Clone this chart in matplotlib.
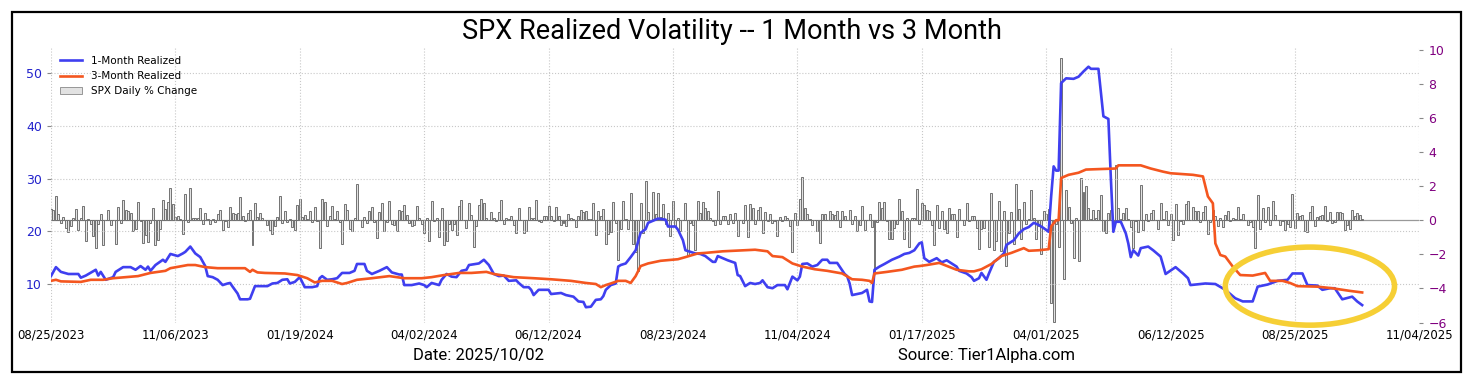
import numpy as np
import pandas as pd
import matplotlib
matplotlib.use("Agg")
import matplotlib.pyplot as plt
from matplotlib.patches import Ellipse, Rectangle, Patch
from matplotlib.lines import Line2D

# NYSE holidays inside the window (x axis is a trading-day index)
HOLIDAYS = ["2023-09-04", "2023-11-23", "2023-12-25", "2024-01-01", "2024-01-15",
            "2024-02-19", "2024-03-29", "2024-05-27", "2024-06-19", "2024-07-04",
            "2024-09-02", "2024-11-28", "2024-12-25", "2025-01-01", "2025-01-09",
            "2025-01-20", "2025-02-17", "2025-04-18", "2025-05-26", "2025-06-19",
            "2025-07-04", "2025-09-01"]

# SPX daily % change, one value per trading day from 2023-08-25
spx_chg = [
    # 2023 Aug-Dec
    0.67, 0.63, 1.45, 0.38, -0.16,
    0.18, -0.42, -0.70, -0.32, 0.14, 0.67, -0.57, 0.12, 0.84, -1.22, 0.07, -0.22, -0.94, -1.64, -0.23, 0.40, -1.47, 0.02, 0.59, -0.27,
    0.01, -1.37, 0.81, -0.13, 1.18, 0.63, 0.52, 0.43, -0.62, -0.50, 1.06, -0.01, -1.34, -0.85, -1.26, -0.17, 0.73, -1.43, -1.18, -0.48, 1.20, 0.65,
    1.05, 1.89, 0.94, 0.18, 0.28, 0.10, -0.81, 1.56, -0.08, 1.91, 0.16, 0.12, 0.13, 0.74, -0.20, 0.41, 0.06, -0.20, 0.10, -0.09, 0.38,
    0.59, -0.54, -0.06, -0.39, 0.80, 0.41, 0.39, 0.46, 1.37, 0.26, -0.01, 0.45, 0.59, -1.47, 1.03, 0.17, 0.42, 0.14, 0.04, -0.28,
    # 2024
    -0.57, -0.80, -0.34, 0.18, 1.41, -0.15, 0.57, -0.07, 0.08, -0.37, -0.56, 0.88, 1.23, 0.22, 0.29, 0.08, 0.53, -0.07, 0.76, -0.06, -1.61,
    1.25, 1.07, -0.32, 0.23, 0.82, 0.06, 0.57, -0.09, -1.37, 0.96, 0.58, -0.48, -0.60, 0.13, 2.11, 0.03, -0.38, 0.17, -0.17, 0.52,
    0.80, -0.12, -1.02, 0.51, 1.03, -0.65, -0.11, 1.12, -0.19, -0.29, -0.65, 0.63, 0.56, 0.89, 0.32, -0.14, -0.31, -0.28, 0.86, 0.11,
    -0.20, -0.72, 0.11, -1.23, 1.11, -0.04, 0.14, -0.95, 0.74, -1.46, -1.20, -0.21, -0.58, -0.22, -0.88, 0.87, 1.20, 0.02, -0.46, 1.02, 0.32, -1.57,
    -0.34, 0.91, 1.26, 1.03, 0.13, -0.00, 0.51, 0.16, -0.02, 0.48, 1.17, -0.21, 0.12, 0.09, 0.25, -0.27, -0.74, 0.70, 0.02, -0.74, -0.60, 0.80,
    0.11, 0.15, 1.18, -0.02, -0.11, 0.26, 0.27, 0.85, 0.23, -0.04, 0.77, 0.25, -0.25, -0.16, -0.31, 0.39, 0.16, 0.09, -0.41,
    0.27, 0.62, 0.51, 0.54, 0.10, 0.07, 1.02, -0.88, 0.55, 0.28, 0.64, -1.39, -0.78, -0.71, 1.08, -0.16, -2.31, -0.51, 1.11, 0.08, -0.50, 1.58,
    -1.37, -1.84, -3.00, 1.04, -0.77, 2.30, 0.47, 0.00, 1.68, 0.38, 1.61, 0.20, 0.97, -0.20, 0.42, -0.89, 1.15, -0.32, 0.16, -0.60, 0.00, 1.01,
    -2.12, -0.16, -0.30, -1.73, 1.16, 0.45, 1.07, 0.75, 0.54, 0.13, -0.03, -0.29, 1.70, -0.19, 0.28, 0.25, -0.19, 0.40, -0.13, 0.42,
    -0.93, 0.01, -0.17, 0.90, -0.96, 0.97, 0.71, -0.21, 0.61, 0.77, -0.76, 0.47, -0.02, 0.40, -0.18, -0.05, -0.92, 0.21, -0.03, 0.27, 0.16, -0.33, -1.86,
    0.41, -0.28, 1.23, 2.53, 0.74, 0.38, 0.10, -0.29, 0.02, -0.60, -1.32, 0.39, 0.40, 0.00, 0.53, 0.35, 0.30, 0.57, -0.38, 0.56,
    0.24, 0.05, 0.61, -0.19, 0.25, -0.61, -0.30, 0.82, -0.54, -0.00, 0.38, -0.39, -2.95, -0.09, 1.09, 0.73, 1.10, -0.04, -1.11, -1.07, -0.43,
    # 2025
    -0.22, 1.26, 0.55, -1.11, 0.16, -1.54, 0.16, 0.11, 1.83, -0.21, 1.00, 0.88, 0.61, 0.53, -0.29, -1.46, 0.92, -0.47, 0.53, -0.50,
    -0.76, 0.72, 0.39, 0.36, -0.95, 0.67, 0.03, -0.27, 1.04, -0.01, 0.24, 0.24, -0.43, -1.71, -0.50, -0.47, 0.01, -1.59, 1.59,
    -1.76, -1.22, 1.12, -1.78, 0.55, -2.70, -0.76, 0.49, -1.39, 2.13, 0.64, -1.07, 1.08, -0.22, 0.08, 1.76, 0.16, -1.12, -0.33, -1.97, 0.55,
    0.38, 0.67, -4.84, -5.97, -0.23, -1.57, 9.52, -3.46, 1.81, 0.79, -0.17, -2.24, 0.13, -2.36, 2.51, 1.67, 2.03, 0.74, 0.06, 0.58, 0.15,
    0.63, 1.47, -0.64, -0.77, 0.43, 0.58, -0.07, 3.26, 0.72, 0.10, 0.41, 0.70, 0.09, -0.39, -1.61, -0.04, -0.67, 2.05, -0.56, 0.40, -0.01,
    0.41, 0.58, 0.01, -0.53, 1.03, 0.09, 0.55, -0.27, 0.38, -1.13, 0.94, -0.84, -0.03, -0.22, 0.96, 1.11, -0.00, 0.80, 0.52, 0.52,
    -0.11, 0.47, 0.83, -0.79, -0.07, 0.61, 0.27, -0.33, 0.14, -0.40, 0.32, 0.54, -0.01, 0.14, 0.06, 0.78, 0.07, 0.40, 0.02, -0.30, -0.12, -0.37,
    -1.60, 1.47, -0.49, 0.73, -0.08, 0.78, -0.25, 1.13, 0.32, 0.03, -0.29, -0.01, -0.59, -0.24, -0.40, 1.52, -0.43, 0.41, 0.24, 0.32, -0.64,
    -0.69, 0.51, 0.83, -0.32, 0.21, 0.27, 0.30, 0.85, -0.05, 0.47, -0.13, -0.10, 0.48, 0.49, 0.44, -0.55, -0.28, -0.50, 0.59, 0.26, 0.41,
    0.34, 0.06,
]

# 1-month realized vol, read at turning points (trading-day index, value)
vol1m_idx = [0, 2, 4, 7, 11, 12, 14, 18, 19, 20, 22, 25, 26, 29, 32, 34, 36, 38, 39, 40,
             42, 45, 46, 48, 51, 53, 54, 56, 58, 60, 62, 63, 65, 67, 69, 71, 72, 73, 75, 76,
             79, 80, 82, 87, 89, 91, 93, 95, 96, 98, 100, 102, 105, 107, 108, 109, 111, 113, 115, 117,
             120, 122, 123, 126, 127, 129, 132, 135, 137, 140, 141, 142, 145, 148, 150, 151, 153, 156, 157, 159,
             161, 163, 165, 167, 168, 172, 174, 176, 178, 180, 182, 184, 187, 188, 190, 192, 193, 194, 196, 200,
             201, 205, 207, 210, 212, 214, 215, 217, 219, 221, 222, 223, 225, 227, 228, 229, 231, 233, 235, 237,
             239, 240, 242, 244, 247, 248, 251, 252, 254, 255, 257, 259, 261, 263, 266, 267, 268, 270, 272, 275,
             276, 277, 279, 281, 283, 285, 286, 288, 290, 292, 295, 296, 298, 300, 301, 302, 304, 306, 308, 310,
             312, 313, 314, 316, 318, 319, 320, 321, 322, 324, 326, 328, 329, 330, 331, 333, 335, 338, 341, 343,
             345, 347, 349, 350, 351, 353, 356, 358, 360, 362, 364, 365, 368, 370, 371, 373, 374, 376, 377, 379,
             381, 383, 384, 387, 389, 391, 393, 395, 397, 399, 401, 402, 403, 404, 405, 406, 408, 411, 413, 415,
             417, 418, 421, 422, 423, 425, 426, 427, 428, 430, 432, 433, 434, 435, 437, 438, 441, 443, 446, 448,
             452, 455, 457, 458, 464, 468, 472, 476, 479, 483, 485, 489, 493, 497, 499, 503, 505, 509, 511, 514,
             516, 519, 523, 525, 527]
vol1m = [11.5, 13.2, 12.3, 11.9, 11.9, 11.2, 11.6, 12.7, 11.6, 12.3, 10.8, 11.3, 12.3, 13.2, 13.2, 12.7, 13.4, 12.7, 13.3, 12.5,
         13.6, 14.6, 14.2, 15.7, 15.3, 15.8, 16.1, 17.1, 15.8, 15.1, 13.4, 11.5, 11.3, 10.8, 9.8, 10.1, 10.2, 9.5, 8.2, 7.1,
         7.1, 7.2, 9.6, 9.6, 10.1, 10.2, 10.8, 10.9, 10.1, 10.4, 11.3, 9.4, 9.4, 9.6, 11.1, 11.5, 10.8, 10.9, 11.1, 12.1,
         12.1, 12.5, 13.8, 13.8, 12.5, 11.9, 12.5, 13.2, 12.2, 11.8, 11.8, 9.8, 9.8, 10.1, 9.8, 9.4, 10.2, 9.8, 10.8, 11.9,
         11.4, 11.3, 12.5, 12.7, 13.6, 13.9, 14.6, 13.6, 11.9, 11.5, 11.6, 10.6, 10.7, 10.2, 9.4, 9.4, 8.9, 7.9, 8.9, 8.9,
         8.1, 8.3, 7.9, 7.6, 6.7, 6.6, 5.6, 5.7, 7.0, 7.1, 7.7, 8.9, 9.8, 10.1, 13.3, 13.6, 13.9, 15.1, 16.4, 19.7,
         20.4, 21.6, 22.0, 22.4, 22.2, 20.9, 20.9, 20.3, 18.3, 16.4, 16.1, 15.8, 15.7, 15.3, 14.2, 14.2, 15.3, 14.9, 14.5, 14.0,
         11.7, 11.5, 9.6, 10.2, 10.0, 10.2, 10.7, 9.4, 9.2, 9.8, 9.8, 9.0, 11.4, 10.7, 11.4, 13.8, 13.9, 13.3, 13.6, 14.6,
         14.6, 14.0, 14.0, 14.0, 12.6, 11.9, 11.5, 10.1, 7.9, 8.1, 8.3, 8.9, 6.7, 6.6, 12.7, 13.3, 13.8, 14.6, 15.2, 15.7,
         15.9, 16.4, 17.7, 17.9, 14.9, 14.2, 14.9, 14.1, 14.5, 13.9, 13.3, 12.5, 12.0, 11.3, 10.6, 11.1, 12.1, 10.8, 12.0, 14.2,
         14.9, 15.8, 17.4, 18.3, 19.6, 20.4, 20.8, 21.6, 21.2, 20.6, 19.9, 26.6, 32.3, 31.5, 31.5, 48.1, 49.0, 48.9, 49.3, 50.3,
         51.2, 50.8, 50.8, 46.2, 41.8, 41.3, 30.0, 19.9, 21.8, 21.8, 19.6, 17.7, 15.1, 16.4, 15.4, 16.8, 17.1, 16.4, 15.2, 11.9,
         13.2, 12.0, 11.1, 9.8, 10.1, 10.0, 8.9, 7.3, 6.7, 6.7, 9.5, 9.9, 10.6, 10.8, 12.0, 12.0, 9.8, 9.7, 8.9, 9.2,
         9.2, 7.1, 7.6, 6.7, 6.0]

# 3-month realized vol
vol3m_idx = [0, 2, 4, 12, 16, 21, 25, 30, 35, 40, 46, 48, 55, 58, 62, 67, 78, 80, 81, 83,
             86, 94, 99, 103, 106, 109, 113, 117, 119, 123, 129, 136, 142, 149, 153, 158, 164, 169, 175, 178,
             182, 186, 194, 201, 209, 215, 219, 221, 223, 225, 228, 231, 233, 235, 237, 240, 245, 252, 255, 260,
             263, 270, 283, 288, 290, 294, 298, 302, 307, 312, 318, 322, 326, 329, 330, 331, 336, 342, 347, 349,
             352, 357, 364, 369, 371, 374, 378, 382, 386, 391, 393, 397, 401, 402, 404, 405, 406, 409, 413, 416,
             428, 429, 438, 442, 447, 450, 459, 463, 465, 467, 468, 470, 472, 475, 478, 483, 488, 490, 495, 498,
             501, 509, 515, 522, 527]
vol3m = [10.6, 10.8, 10.5, 10.4, 10.8, 10.8, 11.1, 11.3, 11.5, 12.1, 12.5, 13.0, 13.6, 13.6, 13.2, 13.0, 13.0, 12.3, 12.7, 12.2,
         12.1, 12.0, 11.7, 11.1, 10.3, 10.6, 10.6, 10.0, 10.2, 10.8, 11.1, 11.5, 11.1, 11.1, 11.3, 11.7, 12.1, 12.1, 12.3, 11.9,
         11.6, 11.3, 11.1, 10.9, 10.6, 10.2, 10.0, 9.4, 9.8, 10.1, 10.6, 10.6, 10.2, 11.5, 13.4, 13.9, 14.4, 14.7, 15.1, 15.8,
         15.9, 16.2, 16.5, 16.2, 15.3, 15.1, 13.9, 13.3, 12.8, 12.5, 12.0, 10.9, 10.8, 10.6, 10.2, 12.0, 12.3, 12.7, 13.3, 13.4,
         13.6, 14.0, 12.7, 12.4, 12.4, 12.8, 13.8, 15.3, 15.9, 16.8, 16.3, 16.4, 16.6, 20.9, 22.1, 22.1, 30.1, 30.7, 31.1, 31.7,
         31.9, 32.5, 32.5, 31.9, 31.3, 31.0, 30.7, 30.4, 26.6, 25.3, 17.7, 15.5, 15.2, 13.3, 11.7, 11.6, 12.1, 10.6, 10.6, 10.2,
         9.6, 9.5, 9.2, 8.7, 8.4]

days = pd.date_range("2023-08-25", periods=551,
                     freq=pd.offsets.CustomBusinessDay(holidays=HOLIDAYS))
tick_pos = np.arange(0, 551, 50)
tick_lbl = [days[i].strftime("%m/%d/%Y") for i in tick_pos]
idx = np.arange(len(spx_chg))

BLUE = "#3f3ff0"
ORANGE = "#f4561f"

fig = plt.figure(figsize=(14.73, 3.81), dpi=100)
ax = fig.add_axes([0.0346, 0.1535, 0.9290, 0.7240])
ax2 = ax.twinx()

# bars on the right axis, behind the lines
ax2.bar(idx, spx_chg, width=0.8, color="#e2e2e2", edgecolor="#6a6a6a", linewidth=0.65)
ax2.axhline(0, color="#999999", lw=0.9, zorder=0.5)
ax2.set_ylim(-6, 10.2)
ax2.set_yticks(np.arange(-6, 11, 2))

ax.set_zorder(ax2.get_zorder() + 1)
ax.patch.set_visible(False)

ax.plot(vol1m_idx, vol1m, color=BLUE, lw=1.9)
ax.plot(vol3m_idx, vol3m, color=ORANGE, lw=1.9)
ax.set_ylim(2.7, 55)
ax.set_yticks([10, 20, 30, 40, 50])
ax.set_xlim(0, 550)
ax.set_xticks(tick_pos)
ax.set_xticklabels(tick_lbl)
ax.grid(True, ls=":", color="#c8c8c8", lw=0.8)

for a in (ax, ax2):
    for s in a.spines.values():
        s.set_visible(False)
ax.tick_params(axis="y", colors="#888888", labelcolor="#2222cc", labelsize=9, length=3)
ax.tick_params(axis="x", colors="#cccccc", labelcolor="black", labelsize=8.5, length=0, pad=4)
ax2.tick_params(axis="y", colors="#888888", labelcolor="#800080", labelsize=9, length=3)

ell = Ellipse((506, 9.6), 68, 14.8, fill=False, ec="#f6cf35", lw=4, clip_on=False, zorder=5)
ax.add_patch(ell)

handles = [Line2D([], [], color=BLUE, lw=1.9),
           Line2D([], [], color=ORANGE, lw=1.9),
           Patch(facecolor="#e2e2e2", edgecolor="#888888", lw=0.6)]
ax.legend(handles, ["1-Month Realized", "3-Month Realized", "SPX Daily % Change"],
          loc="upper left", frameon=False, fontsize=7.5, handlelength=2.1)

fig.text(0.497, 0.918, "SPX Realized Volatility -- 1 Month vs 3 Month",
         ha="center", va="center", fontsize=19.5, family="Roboto", color="black")
fig.text(0.325, 0.066, "Date: 2025/10/02", ha="center", va="center", fontsize=12,
         family="Roboto", color="black")
fig.text(0.670, 0.066, "Source: Tier1Alpha.com", ha="center", va="center", fontsize=12,
         family="Roboto", color="black")

fig.patches.append(Rectangle((12 / 1473, 9 / 381), 1449 / 1473, 360 / 381,
                             transform=fig.transFigure, fill=False, ec="black", lw=1.6))

fig.savefig("out.png", dpi=100)
